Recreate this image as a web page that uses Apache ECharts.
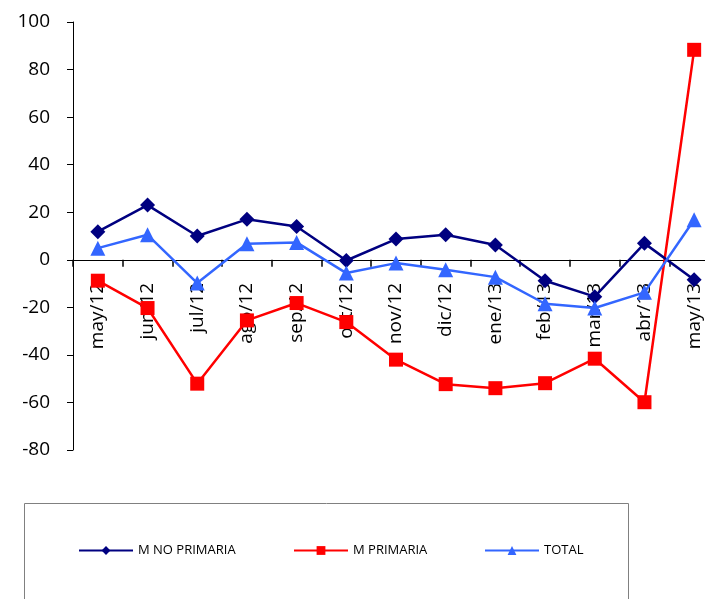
<!DOCTYPE html>
<html>
<head>
<meta charset="utf-8">
<script src="https://cdn.jsdelivr.net/npm/echarts@6/dist/echarts.min.js"></script>
<style>html,body{margin:0;padding:0;background:#fff;overflow:hidden;}#c{width:719px;height:599px;}</style>
</head>
<body>
<div id="c"></div>
<script>
var categories = ['may/12','jun/12','jul/12','ago/12','sep/12','oct/12','nov/12','dic/12','ene/13','feb/13','mar/13','abr/13','may/13'];
var mNoPrimaria = [11.8, 23, 10, 17, 14, -0.3, 8.7, 10.5, 6.2, -8.8, -15.5, 6.9, -8.4];
var mPrimaria = [-8.8, -20.3, -52.1, -25.5, -18.2, -26.2, -42, -52.3, -54, -51.9, -41.6, -59.9, 88.3];
var total = [4.9, 10.5, -9.8, 6.7, 7.3, -5.6, -1.4, -4.2, -7.3, -18.5, -20.3, -13.7, 16.8];
var yTicks = {min: -80, max: 100, interval: 20};

var chart = echarts.init(document.getElementById('c'));
var font = 'Open Sans';
var gridTop = 22, gridBottom = 149, plotH = 599 - gridTop - gridBottom;
var zeroOffset = plotH * (0 - yTicks.min) / (yTicks.max - yTicks.min);
var legendText = {fontFamily: font, fontSize: 13, color: '#000'};
chart.setOption({
  animation: false,
  grid: {left: 73, top: gridTop, bottom: gridBottom, right: 0, containLabel: false},
  xAxis: [{
    type: 'category',
    data: categories,
    boundaryGap: true,
    position: 'bottom',
    offset: -zeroOffset,
    axisLine: {show: true, onZero: false, lineStyle: {color: '#000', width: 1}},
    axisTick: {show: true, interval: 0, length: 7, lineStyle: {color: '#000', width: 1.5}},
    axisLabel: {rotate: 90, color: '#000', fontFamily: font, fontSize: 19, margin: 23, interval: 0},
    splitLine: {show: false}
  }, {
    type: 'value',
    min: 0, max: categories.length, interval: 1,
    position: 'bottom',
    offset: -zeroOffset,
    axisLine: {show: true, onZero: false, lineStyle: {color: '#000', width: 1}},
    axisTick: {show: true, length: 7, lineStyle: {color: '#000', width: 1.5}},
    axisLabel: {show: false},
    splitLine: {show: false}
  }],
  yAxis: {
    type: 'value',
    min: yTicks.min, max: yTicks.max, interval: yTicks.interval,
    axisLine: {show: true, lineStyle: {color: '#000', width: 1}},
    axisTick: {show: true, length: 6, lineStyle: {color: '#000'}},
    axisLabel: {color: '#000', fontFamily: font, fontSize: 19, margin: 23},
    splitLine: {show: false}
  },
  legend: [
    {left: 78, top: 544, padding: 0, itemWidth: 54, itemHeight: 11, textStyle: legendText, data: ['M NO PRIMARIA']},
    {left: 293, top: 544, padding: 0, itemWidth: 54, itemHeight: 11, textStyle: legendText, data: ['M PRIMARIA']},
    {left: 484, top: 544, padding: 0, itemWidth: 54, itemHeight: 11, textStyle: legendText, data: ['TOTAL']}
  ],
  graphic: [{
    type: 'rect', left: 24, top: 503, z: -1,
    shape: {width: 604, height: 120},
    style: {fill: '#fff', stroke: '#808080', lineWidth: 1}
  }],
  series: [
    {name: 'M NO PRIMARIA', type: 'line', data: mNoPrimaria, symbol: 'diamond', symbolSize: 15,
      itemStyle: {color: '#000080'}, lineStyle: {color: '#000080', width: 2.5}, z: 3},
    {name: 'M PRIMARIA', type: 'line', data: mPrimaria, symbol: 'rect', symbolSize: 14,
      itemStyle: {color: '#FF0000'}, lineStyle: {color: '#FF0000', width: 2.5}, z: 2},
    {name: 'TOTAL', type: 'line', data: total, symbol: 'triangle', symbolSize: 15,
      itemStyle: {color: '#3366FF'}, lineStyle: {color: '#3366FF', width: 2.5}, z: 4}
  ]
});
</script>
</body>
</html>
